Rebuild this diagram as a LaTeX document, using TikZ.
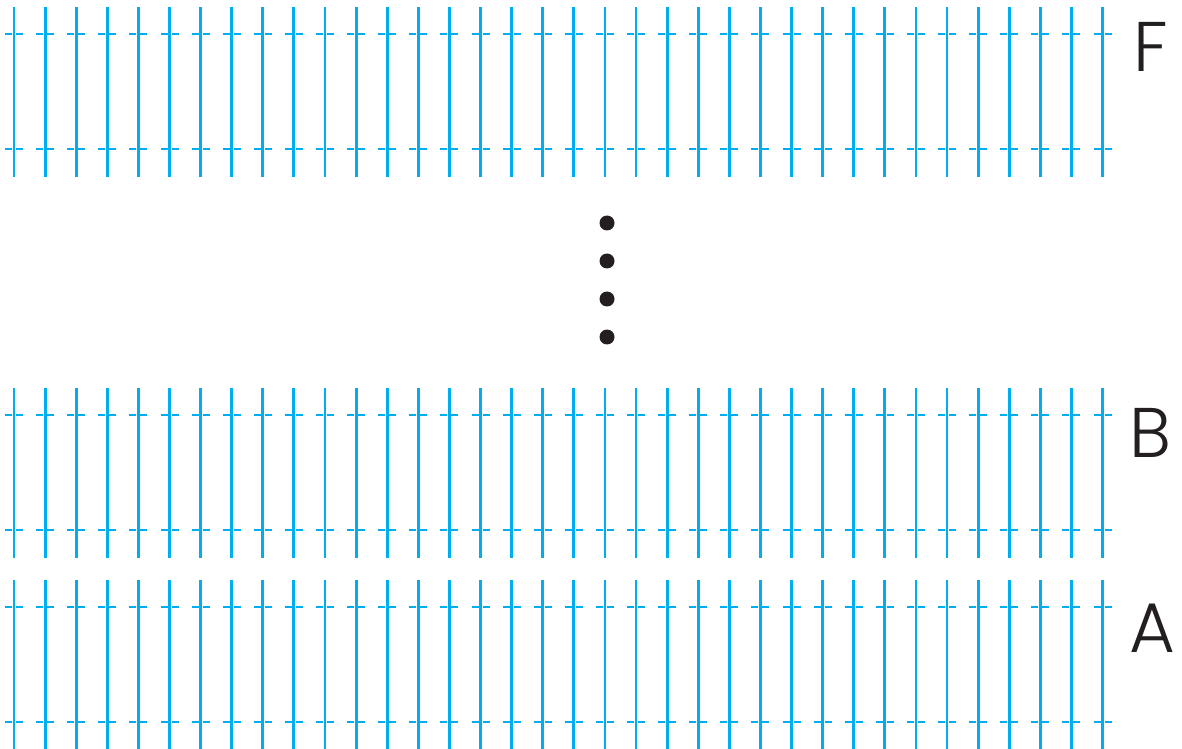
\documentclass[tikz,border=0pt]{standalone}
\usepackage{fontspec}
\setmainfont{Poppins}[UprightFont=* Light]
\definecolor{stripblue}{HTML}{00AEEF}
\definecolor{inkblack}{HTML}{231F20}
\begin{document}
\begin{tikzpicture}[x=0.02cm,y=-0.02cm,
        wire/.style={stripblue,line width=1.6pt},
        tickmark/.style={stripblue,line width=1.7pt},
        letter/.style={anchor=west,inner sep=0pt,text=inkblack,
            font=\fontsize{40}{46}\selectfont}]
    \useasboundingbox (0,0) rectangle (1182,749);
    % three strips of wires, top edge given in px
    \foreach \top in {7,388,580}{
        \foreach \i in {0,...,35}{
            \draw[wire] ({14+31.1*\i},\top) -- ++(0,170);
            \foreach \dy in {27,142}{
                \draw[tickmark] ({5+31.1*\i},\top+\dy) -- ++(7,0);
                \draw[tickmark] ({16+31.1*\i},\top+\dy) -- ++(7,0);
            }
        }
    }
    \node[letter] (labF) at (1133,47) {F};
    \node[letter] (labB) at (1129,433) {B};
    \node[letter] (labA) at (1129,628) {A};
    % dots between F and B
    \foreach \j in {0,...,3}
        \fill[inkblack] (607,{223+38*\j}) circle (0.15cm);
\end{tikzpicture}
\end{document}
